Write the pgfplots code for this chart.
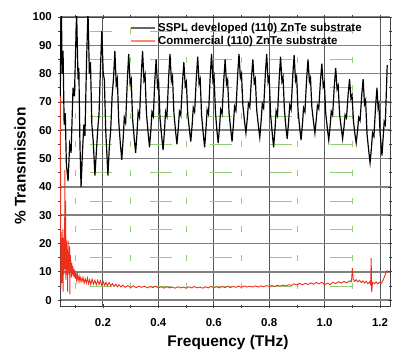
\documentclass[border=0pt]{standalone}
\usepackage{fontspec}
\setmainfont{Liberation Sans}
\usepackage{pgfplots}
\pgfplotsset{compat=1.18}
\definecolor{redc}{RGB}{236,48,28}
\definecolor{legred}{RGB}{250,140,110}
\definecolor{gridgreen}{RGB}{150,205,120}
\begin{document}
\begin{tikzpicture}
\path[use as bounding box] (-60bp,-48bp) rectangle (333bp,306bp);
\begin{axis}[
  scale only axis, width=330bp, height=289bp,
  xmin=0.045, xmax=1.236, ymin=-2.1, ymax=100,
  xtick={0.2,0.4,0.6,0.8,1.0,1.2},
  xticklabels={0.2,0.4,0.6,0.8,1.0,1.2},
  ytick={0,10,...,100},
  minor xtick={0.1,0.3,0.5,0.7,0.9,1.1},
  minor ytick={5,15,...,95},
  /pgf/number format/assume math mode=true,
  tick label style={font=\bfseries\fontsize{11.5}{13}\selectfont},
  yticklabel style={inner sep=0pt, xshift=-6bp},
  xticklabel style={inner sep=0pt, yshift=-10bp},
  tick align=center, major tick length=4bp, minor tick length=3bp,
  tick style={black!75, line width=0.6pt},
  grid=both,
  major y grid style={line width=1.6pt, black!50},
  major x grid style={line width=0.9pt, black!65},
  minor y grid style={line width=0.7pt, gridgreen, dash pattern=on 22bp off 38bp, dash phase=30bp},
  minor x grid style={line width=0.7pt, gridgreen, dash pattern=on 6bp off 22.3bp, dash phase=11.3bp},
  axis line style={black!75, line width=0.8pt},
  xlabel={\bfseries\fontsize{15.5}{18}\selectfont Frequency (THz)},
  ylabel={\bfseries\fontsize{15.5}{18}\selectfont \% Transmission},
  xlabel style={at={(axis description cs:0.509,-0.128)}, anchor=center},
  ylabel style={at={(axis description cs:-0.121,0.484)}, anchor=center, rotate=0},
  legend style={at={(axis description cs:0.212,0.985)}, anchor=north west, draw=none, fill=none,
    font=\bfseries\fontsize{11.5}{13}\selectfont, row sep=-1bp, inner sep=0pt},
  legend cell align=left,
  legend image code/.code={\draw[#1] (0bp,0bp) -- (24bp,0bp);},
  clip=true,
]
\addlegendimage{line width=2pt, black!60}
\addlegendentry{SSPL developed (110) ZnTe substrate}
\addlegendimage{line width=2pt, legred}
\addlegendentry{Commercial (110) ZnTe substrate}

\addplot[forget plot, black, line width=1.2pt] coordinates {
(0.046,72) (0.048,95) (0.050,102) (0.053,80) (0.056,88) (0.060,62) (0.064,66) (0.068,48) (0.074,42)
(0.080,55) (0.085,52) (0.092,75) (0.097,72) (0.105,102) (0.110,78) (0.113,82) (0.117,55) (0.121,40)
(0.126,52) (0.131,62) (0.135,58) (0.141,85) (0.146,102) (0.151,80) (0.155,84) (0.160,62) (0.165,56) (0.171,44)
(0.176,52) (0.181,60) (0.186,66) (0.191,82) (0.196,95) (0.201,80) (0.205,78) (0.210,60) (0.214,52) (0.218,44)
(0.223,54) (0.228,60) (0.233,72) (0.238,78) (0.243,88)
(0.248,76) (0.252,78) (0.257,63) (0.263,55) (0.268,49.5)
(0.273,57) (0.277,64.5) (0.282,62.6) (0.288,77.6) (0.293,87)
(0.298,76.5) (0.302,78) (0.307,64) (0.313,57) (0.318,52)
(0.323,59) (0.327,66.4) (0.332,64.6) (0.338,79) (0.343,88)
(0.348,77.8) (0.352,79.5) (0.357,65.9) (0.363,59.1) (0.368,54)
(0.373,60.2) (0.377,66.4) (0.382,64.9) (0.387,77.3) (0.392,85)
(0.397,75.4) (0.401,77) (0.406,64.2) (0.412,57.8) (0.417,53)
(0.422,59.8) (0.426,66.6) (0.431,64.9) (0.437,78.5) (0.442,87)
(0.447,77.4) (0.451,79) (0.456,66.2) (0.462,59.8) (0.467,55)
(0.472,60.8) (0.476,66.6) (0.481,65.2) (0.487,76.75) (0.492,84)
(0.497,75.6) (0.501,77) (0.506,65.8) (0.512,60.2) (0.517,56)
(0.522,62) (0.526,68) (0.531,66.5) (0.537,78.5) (0.542,86)
(0.547,76.4) (0.551,78) (0.556,65.2) (0.562,58.8) (0.567,54)
(0.572,60.6) (0.576,67.2) (0.581,65.6) (0.587,78.75) (0.592,87)
(0.597,77.5) (0.601,79.1) (0.606,66.5) (0.611,60.2) (0.616,55.5)
(0.621,61.4) (0.625,67.3) (0.630,65.8) (0.636,77.6) (0.641,85)
(0.646,76.3) (0.650,77.75) (0.655,66.2) (0.661,60.4) (0.666,56)
(0.671,62.2) (0.675,68.4) (0.680,66.9) (0.686,79.25) (0.691,87)
(0.696,78.6) (0.700,80) (0.705,68.8) (0.711,63.2) (0.716,59)
(0.721,64.2) (0.725,69.4) (0.730,68.1) (0.736,78.5) (0.741,85)
(0.746,76.75) (0.750,78.1) (0.755,67.1) (0.761,61.6) (0.766,57.5)
(0.771,63.4) (0.775,69.3) (0.780,67.8) (0.786,79.6) (0.791,87)
(0.796,77.1) (0.800,78.75) (0.805,65.55) (0.811,58.95) (0.816,54)
(0.821,60.4) (0.825,66.8) (0.830,65.2) (0.836,78) (0.841,86)
(0.846,77.3) (0.850,78.75) (0.855,67.15) (0.860,61.35) (0.865,57)
(0.870,62.9) (0.874,68.8) (0.879,67.3) (0.885,79.1) (0.890,86.5)
(0.895,77.5) (0.899,79) (0.904,67) (0.910,61) (0.915,56.5)
(0.920,62.2) (0.924,67.9) (0.929,66.5) (0.935,77.9) (0.940,85)
(0.945,77.2) (0.949,78.5) (0.954,68.1) (0.960,62.9) (0.965,59)
(0.970,63.9) (0.974,68.8) (0.979,67.6) (0.985,77.4) (0.990,83.5)
(0.995,75.4) (0.999,76.75) (1.004,66) (1.010,60.55) (1.015,56.5)
(1.020,61.6) (1.024,66.7) (1.029,65.4) (1.035,75.6) (1.040,82)
(1.045,74.5) (1.049,75.75) (1.054,65.75) (1.060,60.75) (1.065,57)
(1.070,61.2) (1.074,65.4) (1.079,64.35) (1.085,72.75) (1.090,78)
(1.095,71.25) (1.099,72.4) (1.104,63.4) (1.109,58.9) (1.114,55.5)
(1.119,60) (1.123,64.5) (1.128,63.4) (1.134,72.4) (1.139,78)
(1.144,69.15) (1.148,70.6) (1.153,58.8) (1.159,52.9) (1.164,48.5)
(1.169,53.8) (1.173,59.1) (1.178,57.8) (1.184,68.4) (1.189,75)
(1.193,67.8) (1.196,69) (1.200,59.4) (1.204,54.6) (1.207,51)
(1.211,57) (1.215,63) (1.219,62) (1.223,74) (1.226,83)
};

\addplot[forget plot, redc, line width=0.9pt] coordinates {
(0.0455,40) (0.0465,72) (0.0475,20) (0.0485,4) (0.0495,24) (0.0505,10) (0.0515,22) (0.0525,6) (0.0535,20)
(0.0545,13) (0.0555,25) (0.0565,3) (0.0575,19) (0.0585,22) (0.0595,9) (0.0605,21) (0.0615,15) (0.0625,46)
(0.0635,11) (0.0645,19) (0.0655,35) (0.0665,7) (0.0675,17) (0.0685,21) (0.0695,9) (0.0705,18) (0.0715,13)
(0.0725,3) (0.0735,16) (0.0745,21) (0.0755,11) (0.0765,17) (0.0775,9) (0.0785,14) (0.0795,19) (0.0805,2)
(0.0815,13) (0.0825,16) (0.0835,10) (0.0845,14) (0.0860,8) (0.0875,13) (0.089,9) (0.091,12) (0.093,8.5)
(0.095,11) (0.097,8) (0.099,10.5) (0.101,7.5) (0.103,9.5) (0.105,7) (0.108,9) (0.111,7) (0.114,8.5)
(0.117,6.5) (0.120,8) (0.124,6.5) (0.128,8) (0.132,6) (0.136,7.5) (0.140,6) (0.144,7.8) (0.148,5.8)
(0.152,7.2) (0.156,5.5) (0.161,7.4) (0.166,5.6) (0.171,7) (0.176,5.4) (0.181,7) (0.186,5.5) (0.191,6.8)
(0.196,5.2) (0.201,6.5) (0.206,5.2) (0.211,6.3) (0.216,5) (0.222,6.2) (0.228,5) (0.234,5.8) (0.240,4.8)
(0.246,5.6) (0.252,4.7) (0.258,5.4) (0.265,4.6) (0.272,5.3) (0.28,4.5) (0.29,5.1) (0.30,4.4) (0.31,5)
(0.32,4.4) (0.33,4.9) (0.34,4.5) (0.35,4.9) (0.36,4.3) (0.37,4.8) (0.38,4.4) (0.39,4.9) (0.40,4.3)
(0.41,4.7) (0.42,4.2) (0.43,4.7) (0.44,4.3) (0.45,4.6) (0.46,4.2) (0.47,4.7) (0.48,4.3) (0.49,4.6)
(0.50,4.2) (0.51,4.7) (0.52,4.3) (0.53,4.8) (0.54,4.3) (0.55,4.6) (0.56,4.2) (0.57,4.7) (0.58,4.3)
(0.59,4.8) (0.60,4.4) (0.61,4.7) (0.62,4.3) (0.63,4.8) (0.64,4.4) (0.65,4.9) (0.66,4.4) (0.67,4.8)
(0.68,4.5) (0.69,4.9) (0.70,4.5) (0.71,5.0) (0.72,4.6) (0.73,4.9) (0.74,4.6) (0.75,5.0) (0.76,4.6)
(0.77,5.0) (0.78,4.7) (0.79,5.1) (0.80,4.8) (0.81,5.1) (0.82,4.8) (0.83,5.2) (0.84,4.9) (0.85,5.3)
(0.86,5.0) (0.87,5.4) (0.88,5.2) (0.89,5.7) (0.90,5.3) (0.91,5.9) (0.92,5.4) (0.93,5.9) (0.94,5.5)
(0.95,6.1) (0.96,5.6) (0.97,6.2) (0.98,5.7) (0.99,6.3) (1.00,5.4) (1.01,6.0) (1.02,5.5) (1.03,6.3)
(1.04,5.8) (1.05,6.5) (1.06,6.0) (1.07,6.6) (1.08,6.1) (1.09,6.8) (1.097,6.5) (1.100,11.3) (1.103,7.5)
(1.108,6.6) (1.114,7.2) (1.12,6.4) (1.126,7.0) (1.132,6.2) (1.138,6.8) (1.144,6.0) (1.15,6.6) (1.156,5.8)
(1.162,6.4) (1.166,5.5) (1.168,14.8) (1.170,2.8) (1.173,6.2) (1.18,5.8) (1.186,6.4) (1.192,5.7) (1.198,6.3)
(1.204,5.9) (1.210,6.8) (1.215,8.0) (1.220,9.3) (1.226,10.6)
};
\end{axis}
\end{tikzpicture}
\end{document}
